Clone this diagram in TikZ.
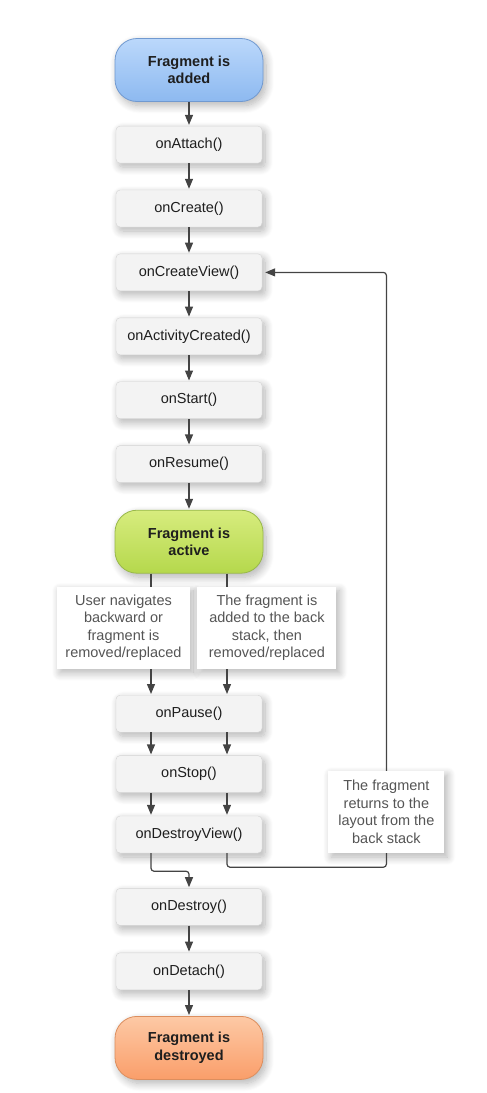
\documentclass[tikz,border=0pt]{standalone}
\usepackage{fontspec}
\setmainfont{Liberation Sans}
\usetikzlibrary{arrows.meta,positioning,shadows.blur}
\definecolor{FragInk}{HTML}{1E1E1E}
\definecolor{FragLine}{HTML}{444444}
\definecolor{FragNote}{HTML}{555555}
\definecolor{FragBox}{HTML}{F3F3F3}
\definecolor{FragBoxEdge}{HTML}{D4D4D4}
\definecolor{FragBlueTop}{HTML}{BBD8FB}
\definecolor{FragBlueBot}{HTML}{8DB9F0}
\definecolor{FragBlueEdge}{HTML}{7099D0}
\definecolor{FragGreenTop}{HTML}{D7EC7E}
\definecolor{FragGreenBot}{HTML}{B5D84C}
\definecolor{FragGreenEdge}{HTML}{98B84A}
\definecolor{FragOrangeTop}{HTML}{FDC9A5}
\definecolor{FragOrangeBot}{HTML}{FA9E6A}
\definecolor{FragOrangeEdge}{HTML}{DC8E5E}

\begin{document}
\begin{tikzpicture}[node distance=26.5pt,font=\fontsize{14.5}{17.5}\selectfont]
\tikzset{sh/.style={blur shadow={shadow xshift=3pt,shadow yshift=-4pt,shadow blur radius=8pt,shadow opacity=30,shadow blur steps=10}},
fn/.style={sh,fill=FragBox,draw=FragBoxEdge,rounded corners=4pt,minimum width=146pt,minimum height=37pt,inner sep=0pt,text=FragInk},
pl/.style={sh,rounded corners=22pt,minimum width=148pt,minimum height=63pt,inner sep=0pt,align=center,font=\fontsize{14.5}{17.5}\selectfont\bfseries,text=FragInk,line width=.8pt},
nt/.style={sh,fill=white,text=FragNote,align=center,minimum height=82pt,inner sep=0pt},
ln/.style={FragLine,line width=1.2pt},
ar/.style={ln,-{Triangle[width=8pt,length=10pt]},shorten >=1pt}}
\useasboundingbox (0,0) rectangle (487pt,-1093pt);
% start of the life cycle
\node[pl,top color=FragBlueTop,bottom color=FragBlueBot,draw=FragBlueEdge] (add) at (189pt,-70pt) {Fragment is\\added};
\node[fn,below=24pt of add] (att) {onAttach()};
\node[fn,below=of att] (cre) {onCreate()};
\node[fn,below=of cre] (cv) {onCreateView()};
\node[fn,below=of cv] (ac) {onActivityCreated()};
\node[fn,below=of ac] (sta) {onStart()};
\node[fn,below=of sta] (res) {onResume()};
\node[pl,top color=FragGreenTop,bottom color=FragGreenBot,draw=FragGreenEdge,below=27pt of res] (act) {Fragment is\\active};
% the two ways out
\node[nt,minimum width=133pt,below=13pt of act,xshift=-65.5pt] (nl) {User navigates\\backward or\\fragment is\\removed/replaced};
\node[nt,minimum width=139pt,right=7pt of nl] (nr) {The fragment is\\added to the back\\stack, then\\removed/replaced};
\coordinate (gap) at (act |- nl.south);
\node[fn,below=26pt of gap] (pa) {onPause()};
\node[fn,below=23pt of pa] (sto) {onStop()};
\node[fn,below=23pt of sto] (dv) {onDestroyView()};
\node[fn,below=35pt of dv] (des) {onDestroy()};
\node[fn,below=27pt of des] (det) {onDetach()};
\node[pl,top color=FragOrangeTop,bottom color=FragOrangeBot,draw=FragOrangeEdge,below=26pt of det] (dst) {Fragment is\\destroyed};
\node[nt,minimum width=116pt,anchor=south west] (nb) at ([xshift=66pt]dv.south east) {The fragment\\returns to the\\layout from the\\back stack};
% connectors
\draw[ar](add)--(att);\draw[ar](att)--(cre);\draw[ar](cre)--(cv);\draw[ar](cv)--(ac);
\draw[ar](ac)--(sta);\draw[ar](sta)--(res);\draw[ar](res)--(act);
\draw[ln]([xshift=-38pt]act.south)--([xshift=-38pt]act.south |- nl.north);
\draw[ln]([xshift=38pt]act.south)--([xshift=38pt]act.south |- nr.north);
\draw[ar]([xshift=-38pt]pa.north |- nl.south)--([xshift=-38pt]pa.north);
\draw[ar]([xshift=38pt]pa.north |- nr.south)--([xshift=38pt]pa.north);
\draw[ar]([xshift=-38pt]pa.south)--([xshift=-38pt]sto.north);
\draw[ar]([xshift=38pt]pa.south)--([xshift=38pt]sto.north);
\draw[ar]([xshift=-38pt]sto.south)--([xshift=-38pt]dv.north);
\draw[ar]([xshift=38pt]sto.south)--([xshift=38pt]dv.north);
\draw[ar,rounded corners=3pt]([xshift=-38pt]dv.south)--++(0,-18pt)-|(des.north);
\draw[ln,rounded corners=3pt]([xshift=38pt]dv.south)--++(0,-14pt)-|(nb.south);
\draw[ar,rounded corners=3pt,shorten >=3pt](nb.north)|-(cv.east);
\draw[ar](des)--(det);\draw[ar](det)--(dst);
\end{tikzpicture}
\end{document}
